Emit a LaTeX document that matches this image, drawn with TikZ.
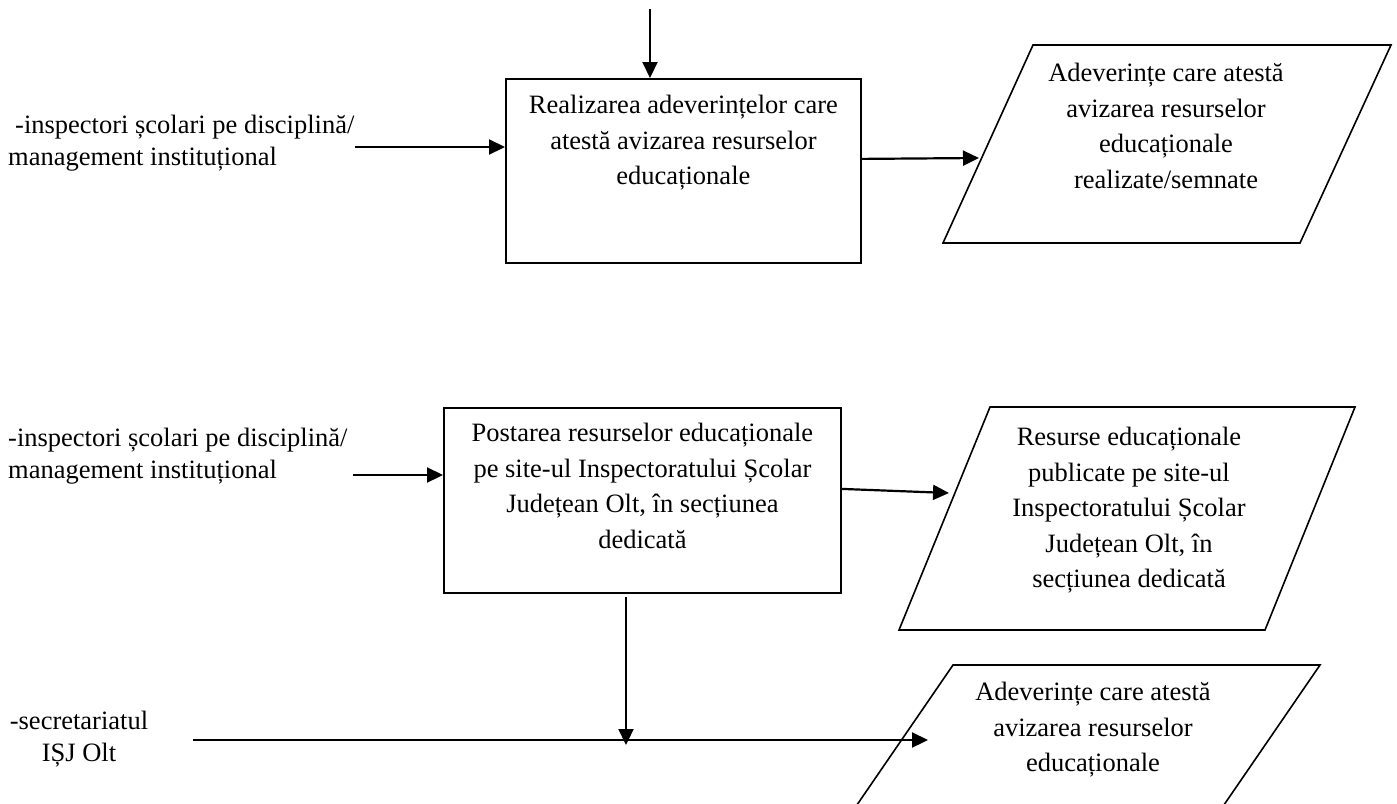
\documentclass[tikz,border=0pt]{standalone}
\usepackage{fontspec}
\setmainfont{Liberation Serif}
\usetikzlibrary{arrows.meta,positioning}
\tikzset{
    %Define standard arrow tip
    >={Triangle[length=16pt,width=15pt]},
    %Define style for boxes
    procbox/.style={
           rectangle,
           draw=black, line width=1.8pt,
           anchor=north west,
           inner sep=0pt},
    boxtext/.style={
           anchor=north,
           inner sep=0pt,
           align=center,
           font=\fontsize{26.5}{35.5}\selectfont},
    sidetext/.style={
           inner sep=0pt,
           font=\fontsize{26.5}{32}\selectfont},
    datapara/.style={
           draw=black, line width=1.6pt,
           line join=miter},
    % Define arrow style
    pil/.style={
           ->,
           line width=2.2pt}
}
\begin{document}
\begin{tikzpicture}[x=1pt,y=-1pt]
\clip (0,0) rectangle (1397,803);
 %nodes
\node[procbox, minimum width=355pt, minimum height=184pt](real) at (505,78){};
\node[boxtext, below=17pt of real.north](realtext){Realizarea adeverințelor care\\atestă avizarea resurselor\\educaționale};
\node[procbox, minimum width=397pt, minimum height=185pt](post) at (443,407){};
\node[boxtext, below=16pt of post.north](posttext){Postarea resurselor educaționale\\pe site-ul Inspectoratului Școlar\\Județean Olt, în secțiunea\\dedicată};
\node[sidetext, anchor=north west, align=left](insp1) at (8,115){\hspace*{7pt}-inspectori școlari pe disciplină/\\management instituțional};
\node[sidetext, anchor=north west, align=left](insp2) at (8,428){-inspectori școlari pe disciplină/\\management instituțional};
\node[sidetext, anchor=north, align=center](secr) at (79,711){-secretariatul\\IȘJ Olt};
 %output shapes
\draw[datapara] (1033,45) coordinate (p1a) -- (1391,45) -- (1300,243) -- (943,243) coordinate (p1d) -- cycle;
\node[boxtext](adev1) at (1166,63){Adeverințe care atestă\\avizarea resurselor\\educaționale\\realizate/semnate};
\draw[datapara] (990,407) coordinate (p2a) -- (1355,407) -- (1265,630) -- (899,630) coordinate (p2d) -- cycle;
\node[boxtext](publ) at (1129,427){Resurse educaționale\\publicate pe site-ul\\Inspectoratului Școlar\\Județean Olt, în\\secțiunea dedicată};
\draw[datapara] (953,665) coordinate (p3a) -- (1320,665) -- (1193,850) -- (826,850) coordinate (p3d) -- cycle;
\node[boxtext](adev2) at (1093,682){Adeverințe care atestă\\avizarea resurselor\\educaționale};
 %connector ends
\coordinate (top) at (650,9);
\coordinate (in1) at (355,147);
\coordinate (in2) at (353,475);
\coordinate (in3) at (193,740);
\coordinate (out1) at (979,158);
\coordinate (out2) at (949,493);
\coordinate (out3) at (928,740);
\coordinate (down) at (626,745);
 %arrows
\draw[pil] (top) -- (top |- real.north);
\draw[pil] (in1) -- (in1 -| real.west);
\draw[pil] ([yshift=12pt]real.east) -- (out1);
\draw[pil] (in2) -- (in2 -| post.west);
\draw[pil] ([yshift=11.5pt]post.east) -- (out2);
\draw[pil] (post.south -| down) ++(0,3) -- (down);
\draw[pil] (in3) -- (out3);
\end{tikzpicture}
\end{document}
